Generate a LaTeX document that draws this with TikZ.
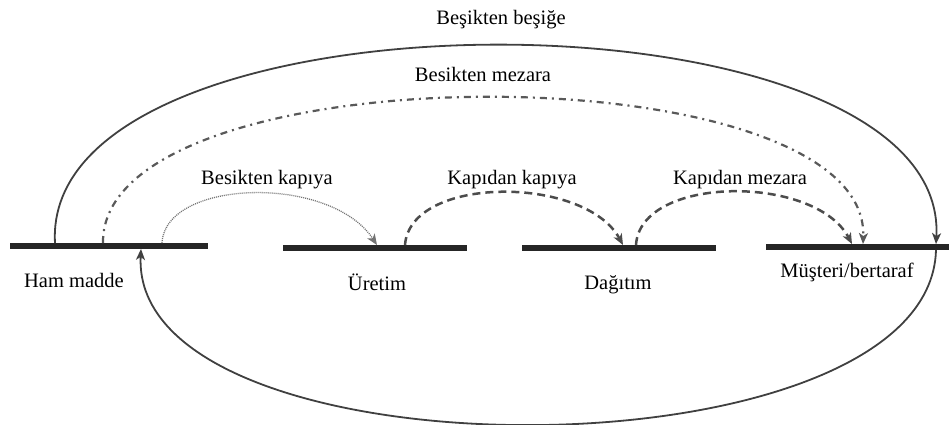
\documentclass[tikz,border=0pt]{standalone}
\usepackage{fontspec}
\setmainfont{Liberation Serif}
\usepackage{tikz}
\usetikzlibrary{arrows.meta, positioning, calc}

\begin{document}
\begin{tikzpicture}[
    x=1pt, y=1pt,
    bar/.style={rectangle, fill=black!85, inner sep=0pt, minimum height=5.5pt},
    stage/.style={anchor=base, font=\fontsize{20.5}{24}\selectfont},
    span/.style={anchor=base, font=\fontsize{20.5}{24}\selectfont},
    tip/.style={-{Stealth[length=11pt, width=9pt, inset=3pt]}},
    cycle/.style={tip, draw=black!75, line width=1.8pt},
    grave/.style={tip, draw=black!65, line width=2.2pt, dash pattern=on 7pt off 5pt on 2pt off 5pt},
    gate/.style={tip, draw=black!55, line width=1.3pt, dash pattern=on 1pt off 1pt},
    door/.style={tip, draw=black!70, line width=2.5pt, dash pattern=on 8pt off 5pt}
  ]

    \useasboundingbox (0,0) rectangle (949,425);

    % Stages
    \node[bar, minimum width=198pt] (ham) at (109,179) {};
    \node[bar, minimum width=184pt] (uretim) at (375,177) {};
    \node[bar, minimum width=194pt] (dagitim) at (619,177) {};
    \node[bar, minimum width=183pt] (musteri) at (857.5,178) {};

    % Stage labels
    \node[stage] (hamlbl) at (74,137) {Ham madde};
    \node[stage] (uretimlbl) at (377,134) {Üretim};
    \node[stage] (dagitimlbl) at (618,135) {Dağıtım};
    \node[stage] (musterilbl) at (847,147) {Müşteri/bertaraf};

    % Span labels
    \node[span] (besige) at (501,400) {Beşikten beşiğe};
    \node[span] (mezara) at (483,343) {Besikten mezara};
    \node[span] (kapiya) at (267,240) {Besikten kapıya};
    \node[span] (kapikapi) at (512,240) {Kapıdan kapıya};
    \node[span] (kapimezar) at (740,240) {Kapıdan mezara};

    % Flows
    \draw[cycle] ([xshift=-54pt]ham.north) .. controls +(-15,264) and +(14,264) .. ([xshift=78.5pt]musteri.north);
    \draw[cycle] ([xshift=78.5pt]musteri.south) .. controls +(-6,-232) and +(-11,-234) .. ([xshift=32pt]ham.south);
    \draw[grave] ([xshift=-6pt]ham.north) .. controls +(-3,194) and +(7,195) .. ([xshift=5.5pt]musteri.north);
    \draw[gate] ([xshift=53pt]ham.north) .. controls +(3,64) and +(-47,71) .. ([xshift=2pt]uretim.north);
    \draw[door] ([xshift=30pt]uretim.north) .. controls +(5,70) and +(-38,70) .. ([xshift=4pt]dagitim.north);
    \draw[door] ([xshift=17pt]dagitim.north) .. controls +(4,70) and +(-37,70) .. ([xshift=-5.5pt]musteri.north);

  \end{tikzpicture}
\end{document}
